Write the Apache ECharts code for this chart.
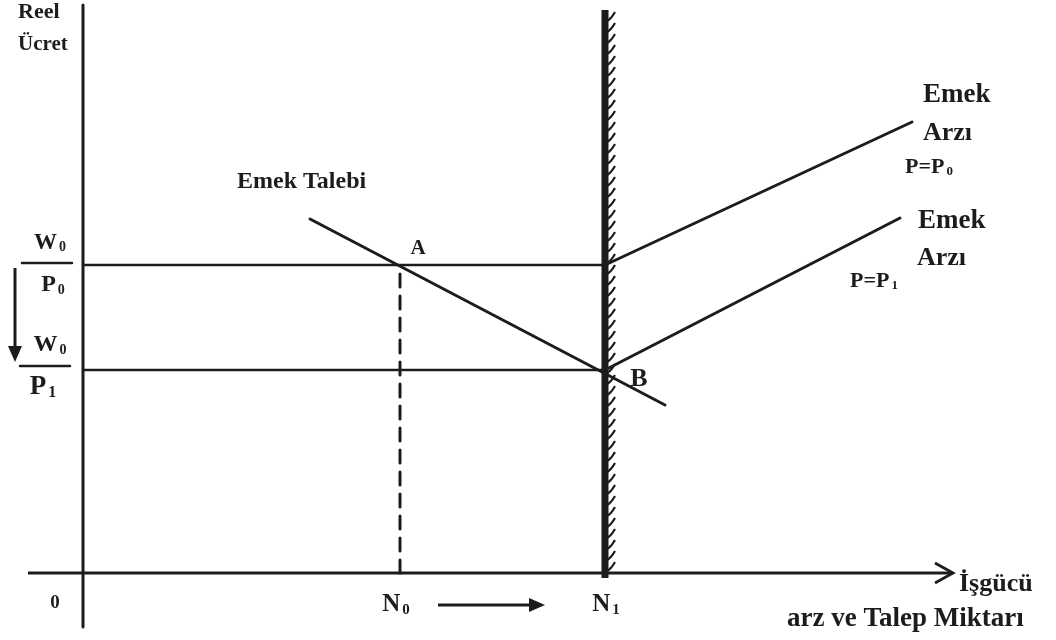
<!DOCTYPE html>
<html>
<head>
<meta charset="utf-8">
<script src="https://cdn.jsdelivr.net/npm/echarts@6/dist/echarts.min.js"></script>
<style>
  html, body { margin: 0; padding: 0; background: #fff; }
  #chart { width: 1056px; height: 640px; }
</style>
</head>
<body>
<div id="chart"></div>
<script>
const demandLine = [[22.7, 35.4], [58.2, 16.8]];
const supplyP0 = [[52.2, 30.8], [82.9, 45.1]];
const supplyP1 = [[52.2, 20.3], [81.7, 35.5]];
const wageP0 = [[0, 30.8], [52.2, 30.8]];
const wageP1 = [[0, 20.3], [52.2, 20.3]];
const employmentN0 = [[31.7, 0], [31.7, 30.8]];
const capacityN1 = [[52.2, -0.5, 56.3]];
const yAxisLine = [[0, -5.4], [0, 56.8]];
const fracBarP0 = [[-6.1, 31.0], [-1.1, 31.0]];
const fracBarP1 = [[-6.3, 20.7], [-1.3, 20.7]];
// [x1, y1, x2, y2, filledHead]
const arrows = [
    [-5.5, 0, 87.0, 0, 0],
    [35.5, -3.2, 46.2, -3.2, 1],
    [-6.8, 30.5, -6.8, 21.1, 1]
];
// [x, y, text, align, fontSize]
const labels = [
    [-6.5, 56.1, 'Reel', 'left', 22],
    [-6.5, 52.8, 'Ücret', 'left', 21],
    [15.4, 39.1, 'Emek Talebi', 'left', 24],
    [33.5, 32.4, 'A', 'center', 21],
    [55.6, 19.4, 'B', 'center', 26],
    [84.0, 47.8, 'Emek', 'left', 27],
    [84.0, 44.0, 'Arzı', 'left', 26],
    [82.2, 40.6, 'P=P{s|0}', 'left', 22],
    [83.5, 35.2, 'Emek', 'left', 27],
    [83.4, 31.5, 'Arzı', 'left', 26],
    [76.7, 29.2, 'P=P{s|1}', 'left', 22],
    [-3.3, 33.0, 'W{s|0}', 'center', 23],
    [-3.0, 28.8, 'P{s|0}', 'center', 24],
    [-3.3, 22.8, 'W{s|0}', 'center', 24],
    [-4.0, 18.6, 'P{s|1}', 'center', 27],
    [-2.8, -3.0, '0', 'center', 19],
    [31.3, -3.2, 'N{s|0}', 'center', 25],
    [52.3, -3.2, 'N{s|1}', 'center', 25],
    [87.6, -1.1, 'İşgücü', 'left', 26],
    [70.4, -4.6, 'arz ve Talep Miktarı', 'left', 27]
];

const ink = '#1c1c1c';
const fontFamily = '"Liberation Serif", "DejaVu Serif", serif';

function lineSeries(data, width, type) {
    return {
        type: 'line',
        data: data,
        symbol: 'none',
        silent: true,
        animation: false,
        lineStyle: { color: ink, width: width, type: type || 'solid', cap: 'round' }
    };
}

let myChart = echarts.init(document.getElementById('chart'));

myChartOption = {
    backgroundColor: '#fff',
    animation: false,
    grid: { left: 3, top: 3, width: 1050, height: 630 },
    xAxis: { type: 'value', min: -8, max: 97, show: false },
    yAxis: { type: 'value', min: -6, max: 57, show: false },
    series: [
        lineSeries(yAxisLine, 3),
        lineSeries(wageP0, 2.5),
        lineSeries(wageP1, 2.5),
        lineSeries(fracBarP0, 2.5),
        lineSeries(fracBarP1, 2.5),
        lineSeries(employmentN0, 3, [13, 9]),
        lineSeries(demandLine, 3),
        lineSeries(supplyP0, 3),
        lineSeries(supplyP1, 3),
        {
            // thick N1 wall with hatching on its right side
            type: 'custom',
            data: capacityN1,
            silent: true,
            renderItem: function (params, api) {
                let bottom = api.coord([api.value(0), api.value(1)]);
                let top = api.coord([api.value(0), api.value(2)]);
                let children = [{
                    type: 'line',
                    shape: { x1: bottom[0], y1: bottom[1], x2: top[0], y2: top[1] },
                    style: { stroke: ink, lineWidth: 7 }
                }];
                for (let y = top[1] + 10; y < bottom[1]; y += 11) {
                    children.push({
                        type: 'bezierCurve',
                        shape: {
                            x1: bottom[0] + 2, y1: y + 1,
                            cpx1: bottom[0] + 6, cpy1: y - 1,
                            x2: bottom[0] + 10, y2: y - 8
                        },
                        style: { stroke: ink, lineWidth: 2.2, fill: null }
                    });
                }
                return { type: 'group', children: children };
            }
        },
        {
            type: 'custom',
            data: arrows,
            silent: true,
            renderItem: function (params, api) {
                let a = api.coord([api.value(0), api.value(1)]);
                let b = api.coord([api.value(2), api.value(3)]);
                let filled = api.value(4) === 1;
                let ang = Math.atan2(b[1] - a[1], b[0] - a[0]);
                let len = filled ? 16 : 18;
                let half = filled ? 7 : 10;
                let bx = b[0] - Math.cos(ang) * len, by = b[1] - Math.sin(ang) * len;
                let px = -Math.sin(ang) * half, py = Math.cos(ang) * half;
                let children = [{
                    type: 'line',
                    shape: { x1: a[0], y1: a[1], x2: filled ? bx : b[0], y2: filled ? by : b[1] },
                    style: { stroke: ink, lineWidth: 3 }
                }];
                if (filled) {
                    children.push({
                        type: 'polygon',
                        shape: { points: [[b[0], b[1]], [bx + px, by + py], [bx - px, by - py]] },
                        style: { fill: ink }
                    });
                } else {
                    children.push({
                        type: 'polyline',
                        shape: { points: [[bx + px, by + py], [b[0], b[1]], [bx - px, by - py]] },
                        style: { stroke: ink, lineWidth: 2.8, fill: null }
                    });
                }
                return { type: 'group', children: children };
            }
        },
        {
            type: 'custom',
            data: labels.map(function (l) { return [l[0], l[1]]; }),
            silent: true,
            renderItem: function (params, api) {
                let l = labels[params.dataIndex];
                let p = api.coord([l[0], l[1]]);
                return {
                    type: 'text',
                    x: p[0],
                    y: p[1],
                    style: {
                        text: l[2],
                        fill: ink,
                        font: 'bold ' + l[4] + 'px ' + fontFamily,
                        align: l[3],
                        verticalAlign: 'middle',
                        rich: {
                            s: {
                                fontSize: Math.round(l[4] * 0.6),
                                fontWeight: 'bold',
                                fontFamily: fontFamily,
                                fill: ink,
                                padding: [Math.round(l[4] * 0.4), 0, 0, 2]
                            }
                        }
                    }
                };
            }
        }
    ]
};
myChart.setOption(myChartOption);
</script>
</body>
</html>
